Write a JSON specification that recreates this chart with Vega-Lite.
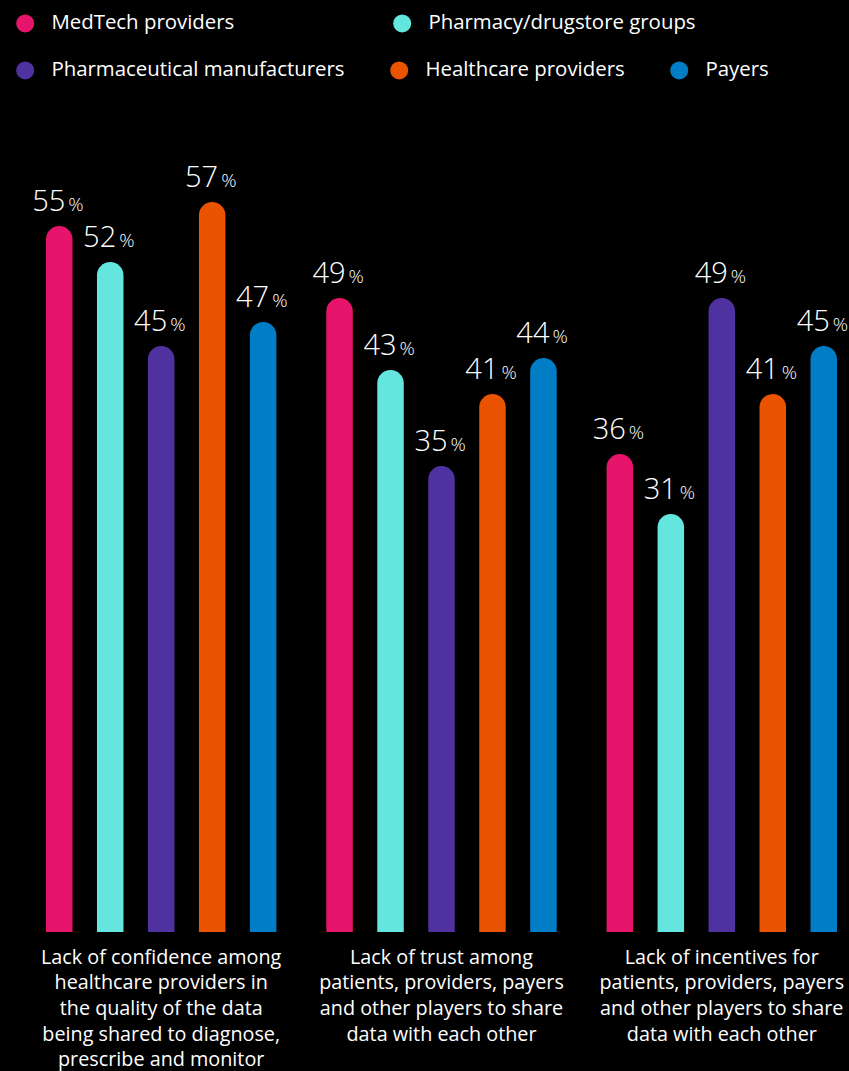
{
  "$schema": "https://vega.github.io/schema/vega-lite/v6.json",
  "width": 791,
  "height": 826,
  "autosize": {"type": "none"},
  "padding": {"left": 46, "top": 106, "right": 12, "bottom": 139},
  "background": "#000000",
  "config": {
    "view": {"stroke": null},
    "legend": {
      "orient": "none",
      "direction": "horizontal",
      "title": null,
      "symbolType": "circle",
      "symbolSize": 324,
      "symbolStrokeWidth": 0,
      "symbolOpacity": 1,
      "labelFont": "Open Sans",
      "labelFontSize": 20.4,
      "labelColor": "#ffffff",
      "labelOffset": 16,
      "labelLimit": 400,
      "padding": 0
    }
  },
  "data": {
    "values": [
      {"cat": "Lack of confidence among|healthcare providers in|the quality of the data|being shared to diagnose,|prescribe and monitor", "series": "MedTech providers", "value": 55},
      {"cat": "Lack of confidence among|healthcare providers in|the quality of the data|being shared to diagnose,|prescribe and monitor", "series": "Pharmacy/drugstore groups", "value": 52},
      {"cat": "Lack of confidence among|healthcare providers in|the quality of the data|being shared to diagnose,|prescribe and monitor", "series": "Pharmaceutical manufacturers", "value": 45},
      {"cat": "Lack of confidence among|healthcare providers in|the quality of the data|being shared to diagnose,|prescribe and monitor", "series": "Healthcare providers", "value": 57},
      {"cat": "Lack of confidence among|healthcare providers in|the quality of the data|being shared to diagnose,|prescribe and monitor", "series": "Payers", "value": 47},
      {"cat": "Lack of trust among|patients, providers, payers|and other players to share|data with each other", "series": "MedTech providers", "value": 49},
      {"cat": "Lack of trust among|patients, providers, payers|and other players to share|data with each other", "series": "Pharmacy/drugstore groups", "value": 43},
      {"cat": "Lack of trust among|patients, providers, payers|and other players to share|data with each other", "series": "Pharmaceutical manufacturers", "value": 35},
      {"cat": "Lack of trust among|patients, providers, payers|and other players to share|data with each other", "series": "Healthcare providers", "value": 41},
      {"cat": "Lack of trust among|patients, providers, payers|and other players to share|data with each other", "series": "Payers", "value": 44},
      {"cat": "Lack of incentives for|patients, providers, payers|and other players to share|data with each other", "series": "MedTech providers", "value": 36},
      {"cat": "Lack of incentives for|patients, providers, payers|and other players to share|data with each other", "series": "Pharmacy/drugstore groups", "value": 31},
      {"cat": "Lack of incentives for|patients, providers, payers|and other players to share|data with each other", "series": "Pharmaceutical manufacturers", "value": 49},
      {"cat": "Lack of incentives for|patients, providers, payers|and other players to share|data with each other", "series": "Healthcare providers", "value": 41},
      {"cat": "Lack of incentives for|patients, providers, payers|and other players to share|data with each other", "series": "Payers", "value": 45}
    ]
  },
  "encoding": {
    "x": {
      "field": "cat",
      "type": "nominal",
      "sort": null,
      "scale": {"paddingInner": 0.178, "paddingOuter": 0},
      "axis": {
        "title": null,
        "domain": false,
        "ticks": false,
        "labelAngle": 0,
        "labelPadding": 15,
        "labelFont": "Open Sans",
        "labelFontSize": 19.8,
        "labelColor": "#ffffff",
        "labelLineHeight": 25.7,
        "labelLimit": 400,
        "labelExpr": "split(datum.label, '|')"
      }
    },
    "xOffset": {
      "field": "series",
      "type": "nominal",
      "scale": {
        "domain": ["MedTech providers", "Pharmacy/drugstore groups", "Pharmaceutical manufacturers", "Healthcare providers", "Payers"],
        "paddingInner": 0.48,
        "paddingOuter": 0
      }
    },
    "y": {
      "field": "value",
      "type": "quantitative",
      "scale": {"domain": [-3.8333, 65], "nice": false, "zero": false},
      "axis": null
    }
  },
  "layer": [
    {
      "transform": [{"filter": "datum.series === 'MedTech providers' || datum.series === 'Pharmacy/drugstore groups'"}],
      "mark": {"type": "bar", "cornerRadiusTopLeft": 13.25, "cornerRadiusTopRight": 13.25},
      "encoding": {
        "y2": {"datum": -3.8333},
        "color": {
          "field": "series",
          "type": "nominal",
          "scale": {"domain": ["MedTech providers", "Pharmacy/drugstore groups"], "range": ["#e6146b", "#64e6df"]},
          "legend": {"legendX": -31, "legendY": -93, "columnPadding": 157}
        }
      }
    },
    {
      "transform": [{"filter": "datum.series !== 'MedTech providers' && datum.series !== 'Pharmacy/drugstore groups'"}],
      "mark": {"type": "bar", "cornerRadiusTopLeft": 13.25, "cornerRadiusTopRight": 13.25},
      "encoding": {
        "y2": {"datum": -3.8333},
        "color": {
          "field": "series",
          "type": "nominal",
          "scale": {"domain": ["Pharmaceutical manufacturers", "Healthcare providers", "Payers"], "range": ["#4f31a0", "#ea5300", "#007dc4"]},
          "legend": {"legendX": -31, "legendY": -46, "columnPadding": 44}
        }
      }
    },
    {
      "mark": {"type": "text", "align": "right", "baseline": "alphabetic", "dx": 6, "dy": -15, "font": "Open Sans", "fontWeight": 300, "fontSize": 29, "color": "#ffffff"},
      "encoding": {"text": {"field": "value", "type": "quantitative"}}
    },
    {
      "mark": {"type": "text", "align": "left", "baseline": "alphabetic", "dx": 9, "dy": -15, "font": "Open Sans", "fontWeight": 300, "fontSize": 19, "color": "#ffffff"},
      "encoding": {"text": {"value": "%"}}
    }
  ],
  "resolve": {"scale": {"color": "independent"}}
}
